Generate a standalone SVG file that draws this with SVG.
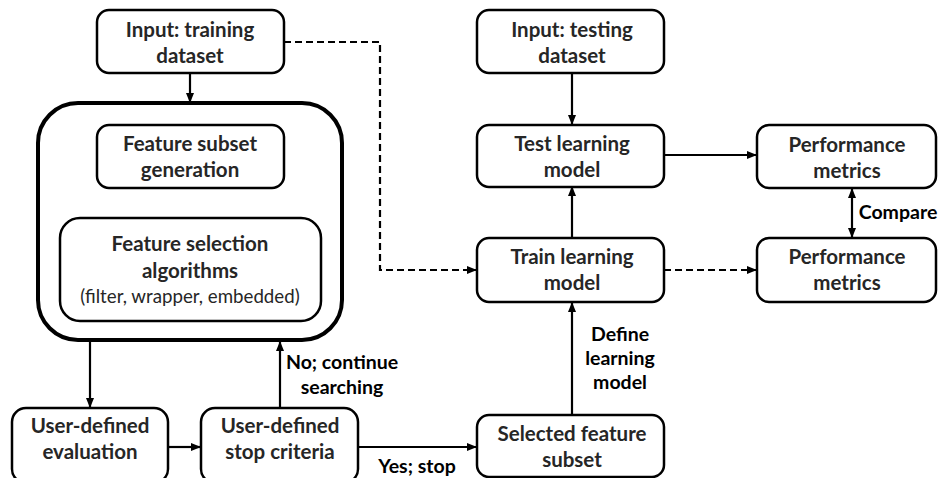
<svg xmlns="http://www.w3.org/2000/svg" width="938" height="478" viewBox="0 0 938 478">
<defs>
<marker id="ah" markerWidth="10" markerHeight="8" refX="9" refY="4" orient="auto-start-reverse" markerUnits="userSpaceOnUse">
<path d="M0,0 L10,4 L0,8 z" fill="#000"/>
</marker>
<style>
.box{fill:#fff;stroke:#000;stroke-width:2.5}
.outer{fill:#fff;stroke:#000;stroke-width:4}
.t{font-family:Lato,"Open Sans",sans-serif;font-weight:bold;font-size:20.5px;fill:#262626;text-anchor:middle}
.r{font-family:Lato,"Open Sans",sans-serif;font-size:18.7px;fill:#262626;text-anchor:middle}
.l{font-family:Lato,"Open Sans",sans-serif;font-weight:bold;font-size:19.5px;fill:#000;text-anchor:middle}
.c{fill:none;stroke:#000;stroke-width:2.2}
.d{fill:none;stroke:#000;stroke-width:2.2;stroke-dasharray:7,4}
</style>
</defs>
<rect width="938" height="478" fill="#fff"/>
<g id="connectors">
<path class="c" d="M190,73 V102" marker-end="url(#ah)"/>
<path class="c" d="M190,188 V217" marker-end="url(#ah)"/>
<path class="c" d="M90,340 V407" marker-end="url(#ah)"/>
<path class="c" d="M168,447 H200" marker-end="url(#ah)"/>
<path class="c" d="M280,408 V342" marker-end="url(#ah)"/>
<path class="c" d="M358,447 H476" marker-end="url(#ah)"/>
<path class="c" d="M572,73 V124" marker-end="url(#ah)"/>
<path class="c" d="M572,238 V187" marker-end="url(#ah)"/>
<path class="c" d="M572,415 V303" marker-end="url(#ah)"/>
<path class="c" d="M664,155 H756" marker-end="url(#ah)"/>
<path class="c" d="M852,189 V237" marker-start="url(#ah)" marker-end="url(#ah)"/>
<path class="d" d="M664,270 H756" marker-end="url(#ah)"/>
<path class="d" d="M284,42 H380 V270 H476" marker-end="url(#ah)"/>
<text class="l" x="263" y="209">Evaluated by</text>
<text class="l" x="342" y="369">No; continue</text>
<text class="l" x="342" y="394">searching</text>
<text class="l" x="417" y="473">Yes; stop</text>
<text class="l" x="620" y="341">Define</text>
<text class="l" x="620" y="365">learning</text>
<text class="l" x="620" y="389">model</text>
<text class="l" x="898" y="219">Compare</text>
</g>
<g id="outer-box">
<rect class="outer" x="38" y="103" width="304" height="237" rx="40"/>
</g>
<g id="input-training">
<rect class="box" x="97" y="10" width="187" height="63" rx="12"/>
<text class="t" x="190" y="37">Input: training</text>
<text class="t" x="190" y="63">dataset</text>
</g>
<g id="feature-subset-generation">
<rect class="box" x="97" y="125" width="187" height="63" rx="12"/>
<text class="t" x="190" y="151">Feature subset</text>
<text class="t" x="190" y="177">generation</text>
</g>
<g id="feature-selection-algorithms">
<rect class="box" x="60" y="218" width="261" height="103" rx="20"/>
<text class="t" x="190" y="251">Feature selection</text>
<text class="t" x="190" y="278">algorithms</text>
<text class="r" x="190" y="303">(filter, wrapper, embedded)</text>
</g>
<g id="user-defined-evaluation">
<rect class="box" x="12" y="408" width="156" height="75" rx="14"/>
<text class="t" x="90" y="433">User-defined</text>
<text class="t" x="90" y="459">evaluation</text>
</g>
<g id="user-defined-stop">
<rect class="box" x="201" y="408" width="157" height="75" rx="14"/>
<text class="t" x="280" y="433">User-defined</text>
<text class="t" x="280" y="459">stop criteria</text>
</g>
<g id="selected-feature-subset">
<rect class="box" x="477" y="415" width="187" height="62" rx="12"/>
<text class="t" x="572" y="441">Selected feature</text>
<text class="t" x="572" y="467">subset</text>
</g>
<g id="input-testing">
<rect class="box" x="477" y="10" width="187" height="63" rx="12"/>
<text class="t" x="572" y="37">Input: testing</text>
<text class="t" x="572" y="63">dataset</text>
</g>
<g id="test-learning-model">
<rect class="box" x="477" y="125" width="187" height="62" rx="12"/>
<text class="t" x="572" y="151">Test learning</text>
<text class="t" x="572" y="177">model</text>
</g>
<g id="train-learning-model">
<rect class="box" x="477" y="238" width="187" height="64" rx="12"/>
<text class="t" x="572" y="264">Train learning</text>
<text class="t" x="572" y="290">model</text>
</g>
<g id="performance-metrics-test">
<rect class="box" x="757" y="125" width="179" height="63" rx="12"/>
<text class="t" x="847" y="152">Performance</text>
<text class="t" x="847" y="178">metrics</text>
</g>
<g id="performance-metrics-train">
<rect class="box" x="757" y="238" width="179" height="64" rx="12"/>
<text class="t" x="847" y="264">Performance</text>
<text class="t" x="847" y="290">metrics</text>
</g>
</svg>
